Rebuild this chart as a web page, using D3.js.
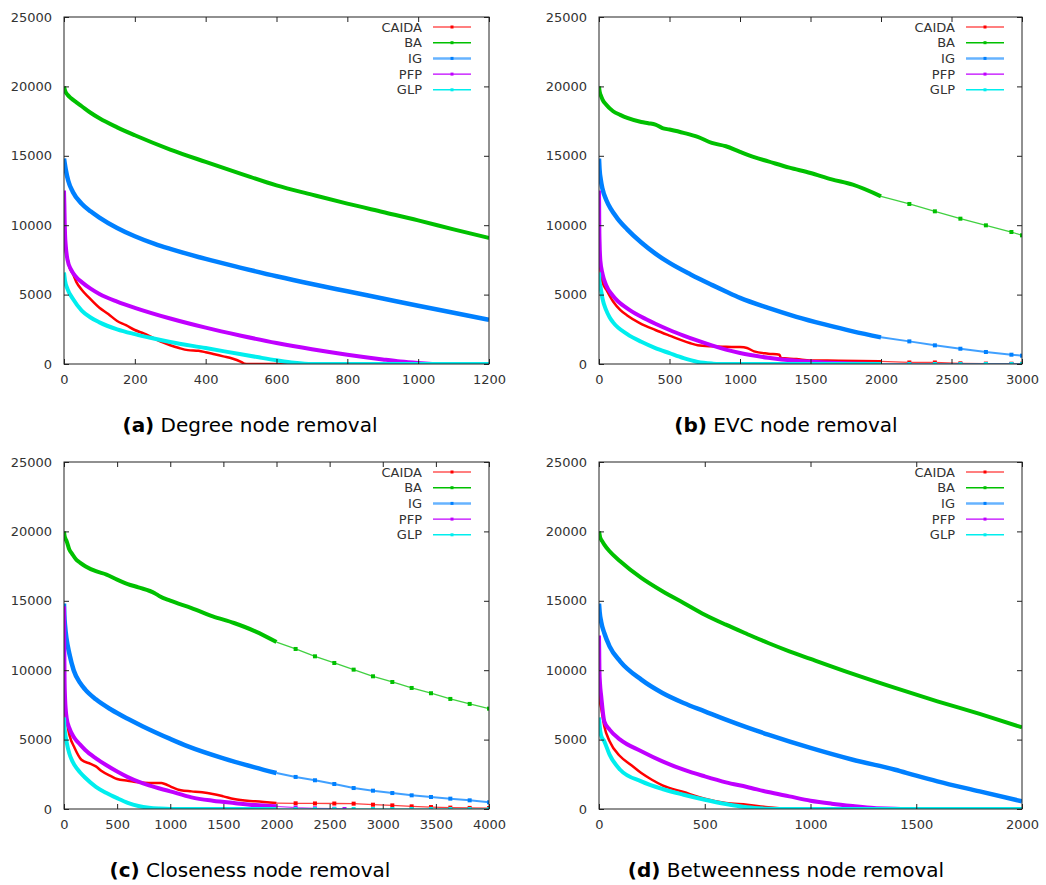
<!DOCTYPE html>
<html>
<head>
<meta charset="utf-8">
<script src="https://cdn.jsdelivr.net/npm/d3@7"></script>
<style>
  body { margin: 0; background: #fff; }
  svg { display: block; }
</style>
</head>
<body>
<svg id="chart" width="1046" height="885"></svg>
<script>
const seriesNames = ["CAIDA", "BA", "IG", "PFP", "GLP"];
const yTicks = [0, 5000, 10000, 15000, 20000, 25000];

// (a) Degree node removal
const degreeXTicks = [0, 200, 400, 600, 800, 1000, 1200];
const degreeCAIDA = [[0,9500],[3,8600],[6,8000],[10,7600],[15,7000],[25,6500],[35,5900],[50,5350],[70,4800],[100,4050],[125,3600],[150,3100],[175,2800],[200,2450],[225,2200],[250,1900],[275,1600],[300,1350],[325,1150],[350,1000],[380,950],[400,850],[425,700],[450,550],[475,400],[500,150],[510,20],[520,0],[660,0]];
const degreeBA = [[0,20000],[3,19700],[10,19400],[20,19150],[35,18850],[50,18570],[75,18100],[100,17700],[150,17050],[200,16480],[300,15450],[400,14560],[500,13700],[600,12870],[700,12200],[800,11550],[900,10950],[1000,10350],[1100,9700],[1200,9080]];
const degreeIG = [[0,14800],[5,14000],[12,13200],[25,12400],[50,11550],[75,11000],[100,10550],[150,9800],[200,9200],[256,8650],[300,8290],[400,7570],[500,6930],[600,6320],[700,5760],[800,5240],[900,4720],[1000,4200],[1100,3690],[1200,3190]];
const degreePFP = [[0,12500],[1,11500],[2,10200],[3,9300],[5,8500],[10,7500],[20,6800],[35,6250],[50,5900],[75,5430],[100,5050],[150,4500],[200,4050],[300,3280],[400,2620],[500,2040],[600,1510],[700,1060],[800,670],[900,330],[950,180],[1000,70],[1040,0]];
const degreeGLP = [[0,6600],[3,6000],[10,5400],[25,4700],[50,3850],[75,3350],[100,3000],[150,2500],[200,2150],[250,1850],[300,1580],[400,1150],[500,700],[550,480],[600,270],[650,90],[700,0],[1200,0]];

// (b) EVC node removal
const evcXTicks = [0, 500, 1000, 1500, 2000, 2500, 3000];
const evcCAIDA = [[0,9500],[2,8500],[5,7500],[10,6800],[25,5900],[52,5350],[100,4500],[150,3900],[200,3500],[289,2950],[400,2450],[500,2050],[643,1510],[700,1350],[800,1270],[900,1240],[1000,1220],[1050,1150],[1100,910],[1200,745],[1280,670],[1290,430],[1400,360],[1500,260],[1700,240],[2000,190],[2201,110],[2382,110],[2563,50],[2744,30],[2925,20],[3000,20]];
const evcBA = [[0,20000],[5,19600],[15,19300],[25,19050],[50,18690],[100,18210],[150,17950],[200,17730],[300,17440],[350,17350],[400,17250],[450,17000],[500,16890],[600,16650],[700,16360],[800,15930],[900,15690],[1000,15280],[1100,14900],[1200,14600],[1350,14150],[1500,13760],[1650,13300],[1800,12920],[2000,12080],[2201,11530],[2382,11000],[2563,10470],[2744,9990],[2925,9510],[3000,9270]];
const evcIG = [[0,14800],[4,14000],[12,13300],[25,12600],[50,11850],[85,11150],[130,10500],[200,9700],[300,8750],[400,7950],[500,7280],[650,6450],[800,5700],[900,5220],[1000,4760],[1200,4040],[1400,3400],[1600,2850],[1800,2350],[2000,1920],[2201,1630],[2382,1345],[2563,1100],[2744,865],[2925,670],[3000,600]];
const evcPFP = [[0,12500],[1,11500],[2,10000],[4,8800],[10,7400],[25,6500],[50,5700],[100,4900],[200,4000],[300,3400],[400,2900],[500,2450],[600,2050],[700,1680],[800,1340],[900,1040],[1000,790],[1200,450],[1400,230],[1600,110],[1800,40],[2000,0],[2201,0],[2382,0],[2563,0],[2744,0],[2925,0],[3000,0]];
const evcGLP = [[0,6600],[3,6000],[10,5600],[25,4700],[50,3900],[76,3350],[100,3000],[200,2150],[300,1600],[400,1150],[500,780],[600,420],[700,150],[800,30],[850,0],[2000,0],[2201,0],[2382,0],[2563,0],[2744,0],[2925,0],[3000,0]];

// (c) Closeness node removal
const closenessXTicks = [0, 500, 1000, 1500, 2000, 2500, 3000, 3500, 4000];
const closenessCAIDA = [[0,9500],[2,8500],[5,7500],[10,7000],[25,6320],[50,5360],[100,4400],[164,3550],[250,3250],[300,3070],[350,2750],[446,2350],[500,2160],[600,2040],[700,1920],[800,1870],[917,1870],[950,1800],[1000,1630],[1100,1345],[1200,1270],[1300,1200],[1400,1080],[1500,910],[1600,720],[1800,550],[2000,430],[2180,410],[2362,400],[2544,395],[2726,385],[2908,310],[3090,260],[3272,190],[3454,140],[3636,100],[3818,80],[4000,70]];
const closenessBA = [[0,20000],[5,19700],[15,19450],[25,19290],[50,18690],[75,18400],[117,17950],[150,17750],[200,17490],[300,17130],[400,16890],[500,16530],[600,16210],[700,15970],[854,15550],[900,15330],[1000,15010],[1200,14480],[1400,13880],[1600,13400],[1800,12800],[2000,12030],[2180,11530],[2362,11000],[2544,10520],[2726,10040],[2908,9560],[3090,9150],[3272,8720],[3454,8340],[3636,7930],[3818,7570],[4000,7230]];
const closenessIG = [[0,14800],[3,14000],[10,13200],[25,12200],[50,11200],[91,10000],[150,9100],[200,8600],[300,7900],[446,7150],[600,6500],[743,5950],[1000,5050],[1167,4510],[1500,3650],[1795,3000],[2000,2590],[2180,2310],[2362,2070],[2544,1800],[2726,1510],[2908,1320],[3090,1150],[3272,985],[3454,865],[3636,745],[3818,625],[4000,480]];
const closenessPFP = [[0,14600],[1,13300],[2,11900],[3,11300],[5,9500],[10,8000],[25,6560],[50,5840],[100,5100],[150,4650],[200,4250],[300,3650],[400,3150],[500,2700],[600,2300],[700,1970],[800,1700],[1000,1270],[1200,840],[1400,600],[1600,430],[1800,280],[2000,190],[2180,100],[2362,50],[2544,20],[2640,0]];
const closenessGLP = [[0,6600],[3,6000],[10,5500],[25,4800],[50,4000],[75,3500],[100,3150],[150,2650],[200,2250],[300,1600],[400,1150],[500,780],[600,450],[700,220],[800,90],[900,30],[1000,0],[2000,0],[2180,0],[2362,0],[2544,0],[2726,0],[2908,0],[3090,0],[3272,0],[3454,0],[3636,0],[3818,0],[4000,0]];

// (d) Betweenness node removal
const betweennessXTicks = [0, 500, 1000, 1500, 2000];
const betweennessCAIDA = [[0,9500],[2,8500],[5,7700],[10,7300],[25,5960],[50,4880],[100,3800],[150,3190],[200,2590],[250,2110],[300,1710],[400,1220],[500,745],[600,430],[700,310],[800,120],[900,20],[1000,0]];
const betweennessBA = [[0,20000],[5,19600],[15,19300],[25,19050],[50,18570],[100,17850],[200,16650],[300,15690],[400,14850],[500,14000],[600,13280],[700,12610],[800,11960],[900,11360],[1000,10810],[1200,9730],[1400,8720],[1600,7760],[1800,6850],[2000,5880]];
const betweennessIG = [[0,14800],[3,14200],[10,13500],[25,12680],[50,11720],[100,10640],[200,9320],[300,8360],[400,7640],[500,7040],[600,6440],[700,5880],[800,5360],[1000,4400],[1200,3550],[1400,2830],[1500,2400],[1600,1990],[1800,1270],[2000,550]];
const betweennessPFP = [[0,12500],[1,11500],[2,10000],[5,9000],[10,8200],[25,6320],[50,5720],[100,5000],[200,4160],[300,3430],[400,2830],[500,2350],[600,1920],[700,1590],[800,1220],[900,910],[1000,600],[1100,385],[1200,215],[1300,70],[1400,20],[1430,0]];
const betweennessGLP = [[0,6600],[3,6000],[10,5300],[25,4880],[50,3920],[100,2830],[200,1990],[300,1440],[400,1030],[500,670],[600,360],[700,120],[800,20],[850,0],[2000,0]];

// styles
const seriesColors = ["#ff0000", "#00c000", "#0080ff", "#c000ff", "#00eeee"];
const denseWidths = [2.5, 4, 4.5, 4, 4];
const legendWidths = [1.2, 1.5, 2.5, 1.2, 1.5];

const panels = [
  { id: "a", label: "(a)", title: " Degree node removal", xTicks: degreeXTicks,
    series: [degreeCAIDA, degreeBA, degreeIG, degreePFP, degreeGLP],
    left: 64, right: 489, top: 17, bottom: 364, denseEnd: Infinity, capX: 250, capY: 432 },
  { id: "b", label: "(b)", title: " EVC node removal", xTicks: evcXTicks,
    series: [evcCAIDA, evcBA, evcIG, evcPFP, evcGLP],
    left: 599, right: 1022, top: 17, bottom: 364, denseEnd: 2000, capX: 786, capY: 432 },
  { id: "c", label: "(c)", title: " Closeness node removal", xTicks: closenessXTicks,
    series: [closenessCAIDA, closenessBA, closenessIG, closenessPFP, closenessGLP],
    left: 64, right: 489, top: 462, bottom: 809, denseEnd: 2000, capX: 250, capY: 877 },
  { id: "d", label: "(d)", title: " Betweenness node removal", xTicks: betweennessXTicks,
    series: [betweennessCAIDA, betweennessBA, betweennessIG, betweennessPFP, betweennessGLP],
    left: 599, right: 1022, top: 462, bottom: 809, denseEnd: Infinity, capX: 786, capY: 877 }
];

const svg = d3.select("#chart");
const axisFont = "DejaVu Sans, sans-serif";
const fmt = d3.format("d");

panels.forEach(p => drawPanel(p));

function drawPanel(p) {
  const xMax = p.xTicks[p.xTicks.length - 1];
  const x = d3.scaleLinear().domain([0, xMax]).range([p.left, p.right]);
  const y = d3.scaleLinear().domain([0, 25000]).range([p.bottom, p.top]);
  const g = svg.append("g");

  g.append("clipPath").attr("id", "clip-" + p.id)
    .append("rect")
    .attr("x", p.left).attr("y", p.top - 3)
    .attr("width", p.right - p.left).attr("height", p.bottom - p.top + 3);

  const line = d3.line()
    .x(d => x(d[0]))
    .y(d => y(d[1]))
    .curve(d3.curveMonotoneX);

  const plot = g.append("g").attr("clip-path", `url(#clip-${p.id})`);

  p.series.forEach((pts, i) => {
    const dense = pts.filter(d => d[0] <= p.denseEnd);
    const rest = pts.filter(d => d[0] > p.denseEnd);

    plot.append("path")
      .attr("d", line(dense))
      .attr("fill", "none")
      .attr("stroke", seriesColors[i])
      .attr("stroke-width", denseWidths[i])
      .attr("stroke-linejoin", "round");

    // thin tail with sparse point markers
    if (rest.length) {
      const tail = [dense[dense.length - 1]].concat(rest);
      plot.append("path")
        .attr("d", d3.line().x(d => x(d[0])).y(d => y(d[1]))(tail))
        .attr("fill", "none")
        .attr("stroke", seriesColors[i])
        .attr("stroke-opacity", 0.75)
        .attr("stroke-width", i === 2 ? 2 : 1.3);

      plot.selectAll(null)
        .data(rest)
        .enter().append("rect")
        .attr("x", d => x(d[0]) - 2)
        .attr("y", d => y(d[1]) - 2)
        .attr("width", 4).attr("height", 4)
        .attr("fill", seriesColors[i]);
    }
  });

  // axes with inward ticks on all four sides
  const tick = 5;
  const bottomAxis = g.append("g")
    .attr("transform", `translate(0,${p.bottom})`)
    .call(d3.axisBottom(x).tickValues(p.xTicks).tickFormat(fmt).tickSizeInner(-tick).tickSizeOuter(0).tickPadding(11));
  const leftAxis = g.append("g")
    .attr("transform", `translate(${p.left},0)`)
    .call(d3.axisLeft(y).tickValues(yTicks).tickFormat(fmt).tickSizeInner(-tick).tickSizeOuter(0).tickPadding(12));
  g.append("g")
    .attr("transform", `translate(0,${p.top})`)
    .call(d3.axisTop(x).tickValues(p.xTicks).tickSizeInner(-tick).tickSizeOuter(0).tickFormat(""));
  g.append("g")
    .attr("transform", `translate(${p.right},0)`)
    .call(d3.axisRight(y).tickValues(yTicks).tickSizeInner(-tick).tickSizeOuter(0).tickFormat(""));

  g.selectAll(".domain").remove();
  g.selectAll(".tick line").attr("stroke", "#222");
  [bottomAxis, leftAxis].forEach(a => a.selectAll("text")
    .attr("font-family", axisFont)
    .attr("font-size", 13)
    .attr("fill", "#333"));

  g.append("rect")
    .attr("x", p.left).attr("y", p.top)
    .attr("width", p.right - p.left).attr("height", p.bottom - p.top)
    .attr("fill", "none")
    .attr("stroke", "#222")
    .attr("stroke-width", 1);

  // legend
  const legend = g.append("g");
  seriesNames.forEach((name, i) => {
    const ly = p.top + 10 + i * 15.7;
    legend.append("text")
      .attr("x", p.right - 67)
      .attr("y", ly)
      .attr("dy", "0.35em")
      .attr("text-anchor", "end")
      .attr("font-family", axisFont)
      .attr("font-size", 13)
      .attr("fill", "#333")
      .text(name);
    legend.append("line")
      .attr("x1", p.right - 56).attr("x2", p.right - 18)
      .attr("y1", ly).attr("y2", ly)
      .attr("stroke", seriesColors[i])
      .attr("stroke-opacity", i === 2 ? 0.6 : 1)
      .attr("stroke-width", legendWidths[i]);
    legend.append("rect")
      .attr("x", p.right - 38.5).attr("y", ly - 1.5)
      .attr("width", 3).attr("height", 3)
      .attr("fill", seriesColors[i]);
  });

  // caption
  const cap = svg.append("text")
    .attr("x", p.capX)
    .attr("y", p.capY)
    .attr("text-anchor", "middle")
    .attr("font-family", axisFont)
    .attr("font-size", 20)
    .attr("fill", "#000");
  cap.append("tspan").attr("font-weight", "bold").text(p.label);
  cap.append("tspan").text(p.title);
}
</script>
</body>
</html>
